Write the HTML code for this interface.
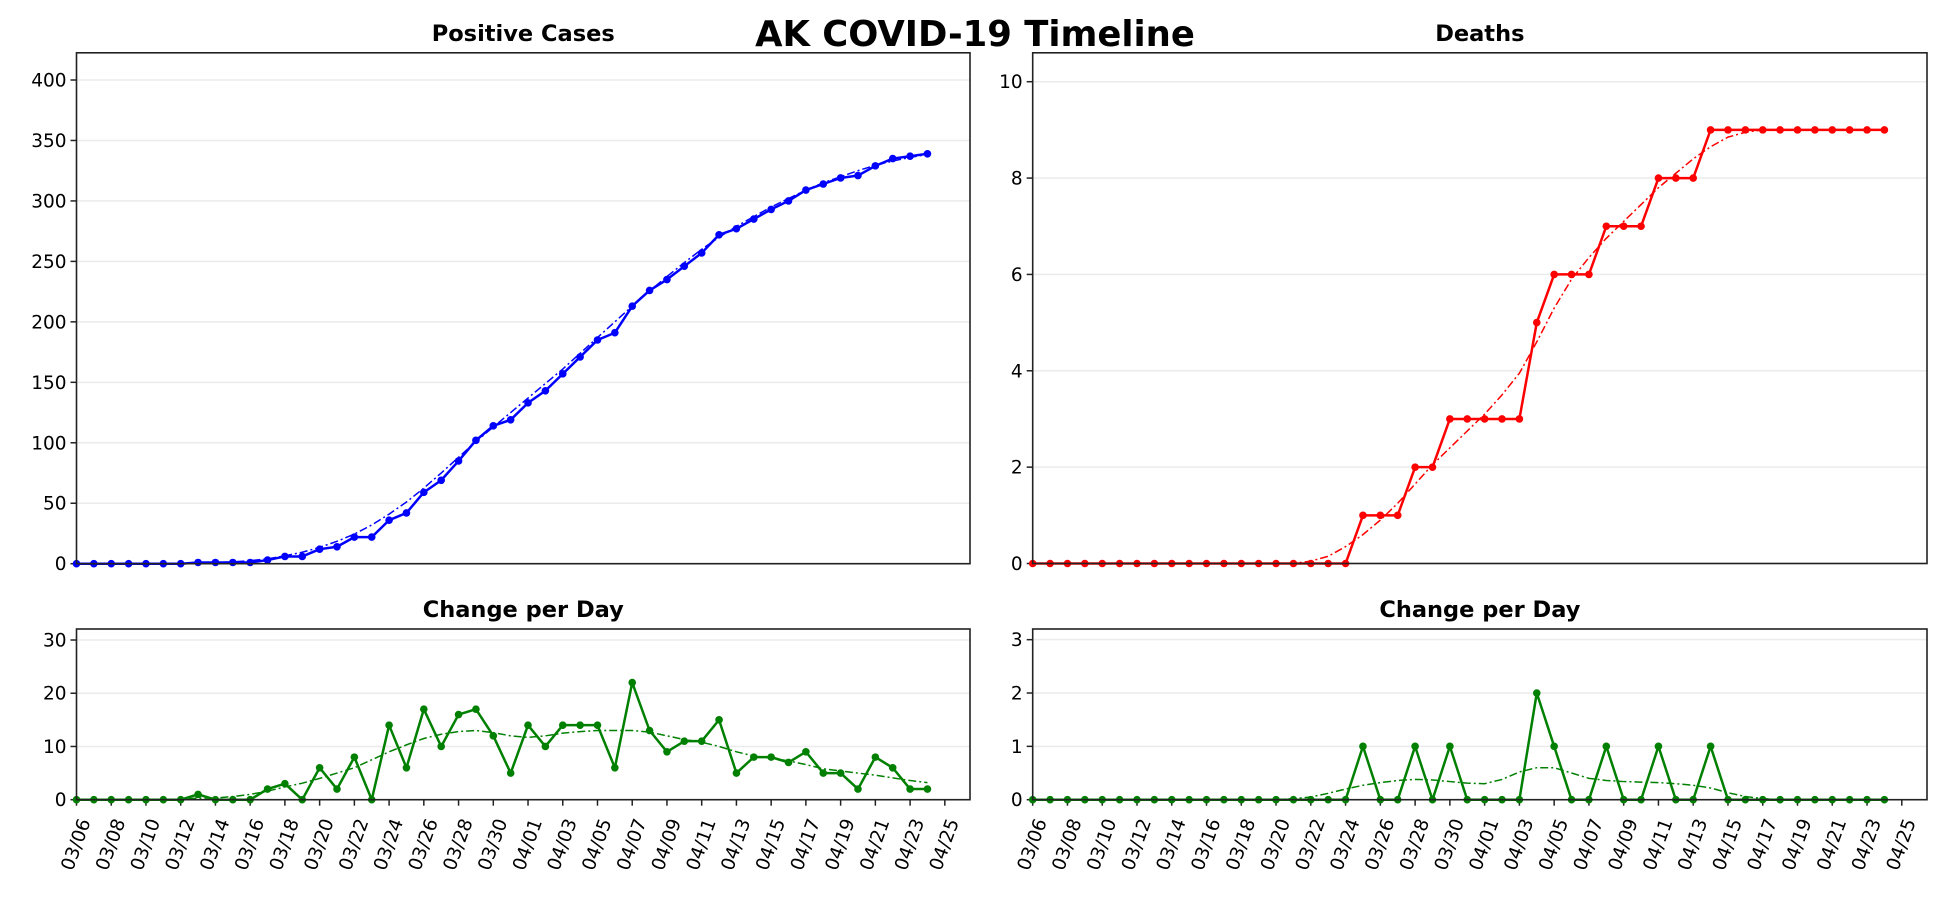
<!DOCTYPE html>
<html><head><meta charset="utf-8"><style>
html,body{margin:0;padding:0;background:#fff;}
svg{display:block;font-family:"DejaVu Sans","Liberation Sans",sans-serif;}
</style></head><body>
<svg id="fig" width="1950" height="900" viewBox="0 0 1950 900" xmlns="http://www.w3.org/2000/svg">
<rect width="1950" height="900" fill="#fff"/>
<text x="975" y="46" text-anchor="middle" font-size="35.4" font-weight="bold">AK COVID-19 Timeline</text>
</svg>
<script>
const dates = ["03/06","03/08","03/10","03/12","03/14","03/16","03/18","03/20","03/22","03/24","03/26","03/28","03/30","04/01","04/03","04/05","04/07","04/09","04/11","04/13","04/15","04/17","04/19","04/21","04/23","04/25"];
const casesDaily = [0,0,0,0,0,0,0,1,0,0,0,2,3,0,6,2,8,0,14,6,17,10,16,17,12,5,14,10,14,14,14,6,22,13,9,11,11,15,5,8,8,7,9,5,5,2,8,6,2,2];
const casesCum = [0,0,0,0,0,0,0,1,1,1,1,3,6,6,12,14,22,22,36,42,59,69,85,102,114,119,133,143,157,171,185,191,213,226,235,246,257,272,277,285,293,300,309,314,319,321,329,335,337,339];
const casesTrend = [0,0,0,0,0,0,0,0.5,1,1.5,2.5,4,6.5,9.5,13.5,18.5,24.5,32,41,51,62.5,75,88,101,113,125,137,149,161,174,187,200,213,225.5,237.5,249,260,270,279,287,295,302,309,315,320,325,329.5,333,336,338.5];
const casesDailyTrend = [0,0,0,0,0,0,0.1,0.3,0.3,0.6,1.0,1.6,2.4,3.1,4,5,6,7.5,9,10.3,11.5,12.3,12.8,13,12.6,12,11.7,12,12.5,12.8,13,13,13,12.7,12,11.3,10.8,10,9,8.2,7.8,7.3,6.6,5.8,5.4,5,4.6,4.1,3.6,3.2];
const deathsDaily = [0,0,0,0,0,0,0,0,0,0,0,0,0,0,0,0,0,0,0,1,0,0,1,0,1,0,0,0,0,2,1,0,0,1,0,0,1,0,0,1,0,0,0,0,0,0,0,0,0,0];
const deathsCum = [0,0,0,0,0,0,0,0,0,0,0,0,0,0,0,0,0,0,0,1,1,1,2,2,3,3,3,3,3,5,6,6,6,7,7,7,8,8,8,9,9,9,9,9,9,9,9,9,9,9];
const deathsTrend = [0,0,0,0,0,0,0,0,0,0,0,0,0,0,0,0,0.05,0.15,0.35,0.6,0.9,1.25,1.65,2.05,2.4,2.75,3.1,3.5,3.95,4.6,5.3,5.9,6.35,6.75,7.1,7.45,7.8,8.1,8.4,8.65,8.85,8.95,9,9,9,9,9,9,9,9];
const deathsDailyTrend = [0,0,0,0,0,0,0,0,0,0,0,0,0,0,0,0.02,0.05,0.12,0.2,0.27,0.32,0.36,0.38,0.37,0.34,0.31,0.3,0.38,0.52,0.6,0.6,0.5,0.4,0.36,0.34,0.33,0.32,0.3,0.27,0.22,0.13,0.06,0.02,0,0,0,0,0,0,0];
const casesTicks = [0,50,100,150,200,250,300,350,400];
const deathsTicks = [0,2,4,6,8,10];
const casesDailyTicks = [0,10,20,30];
const deathsDailyTicks = [0,1,2,3];

const NS="http://www.w3.org/2000/svg";
const svg=document.getElementById('fig');
function mk(tag,attrs,parent){const e=document.createElementNS(NS,tag);for(const k in attrs)e.setAttribute(k,attrs[k]);(parent||svg).appendChild(e);return e;}
const XMAX=51.45;
function panel(o){
  const g=mk('g',{});
  
  
  const sx=d=>o.x0+(d/XMAX)*(o.x1-o.x0);
  const sy=v=>o.y1-(v/o.ymax)*(o.y1-o.y0);
  o.yticks.forEach(t=>{
    const y=sy(t);
    const gl=mk('line',{x1:o.x0,x2:o.x1,y1:y,y2:y,stroke:'#ebebeb','stroke-width':1.5},g);
    
    
    mk('line',{x1:o.x0-6,x2:o.x0,y1:y,y2:y,stroke:'#222','stroke-width':1.5},g);
    const tx=mk('text',{x:o.x0-10,y:y+6.5,'text-anchor':'end','font-size':18.5},g);
    tx.textContent=t;
    
    
  });
  if(o.xlabels){
    dates.forEach((d,i)=>{
      const x=sx(i*2);
      mk('line',{x1:x,x2:x,y1:o.y1,y2:o.y1+6,stroke:'#222','stroke-width':1.5},g);
      const tx=mk('text',{x:0,y:0,'text-anchor':'middle','dominant-baseline':'central','font-size':18.5,transform:`translate(${x},${o.y1+45}) rotate(-70)`},g);
      tx.textContent=d;
      
      
    });
  }
  const tp=o.trend.map((v,i)=>`${sx(i)},${sy(v)}`).join(' ');
  const tl=mk('polyline',{points:tp,fill:'none',stroke:o.color,'stroke-width':1.5,'stroke-dasharray':'8,3,2,3'},g);
  
  
  const pp=o.data.map((v,i)=>`${sx(i)},${sy(v)}`).join(' ');
  const dl=mk('polyline',{points:pp,fill:'none',stroke:o.color,'stroke-width':2.5,'stroke-linejoin':'round'},g);
  
  
  o.data.forEach((v,i)=>{
    const c=mk('circle',{cx:sx(i),cy:sy(v),r:3.8,fill:o.color},g);
    
    
  });
  const fr=mk('rect',{x:o.x0,y:o.y0,width:o.x1-o.x0,height:o.y1-o.y0,fill:'none',stroke:'#222','stroke-width':1.6},g);
  
  
  const ti=mk('text',{x:(o.x0+o.x1)/2,y:o.ty,'text-anchor':'middle','font-size':22.5,'font-weight':'bold'},g);
  ti.textContent=o.title;
  
  
}
panel({name:'positive-cases-chart',title:'Positive Cases',x0:76.5,x1:970,y0:52.8,y1:563.7,ymax:422.5,yticks:casesTicks,data:casesCum,trend:casesTrend,color:'#0000ff',ty:41,xlabels:false});
panel({name:'deaths-chart',title:'Deaths',x0:1032.7,x1:1927,y0:52.8,y1:563.5,ymax:10.6,yticks:deathsTicks,data:deathsCum,trend:deathsTrend,color:'#ff0000',ty:41,xlabels:false});
panel({name:'cases-change-chart',title:'Change per Day',x0:76.5,x1:970,y0:629,y1:799.7,ymax:32.07,yticks:casesDailyTicks,data:casesDaily,trend:casesDailyTrend,color:'#008000',ty:617,xlabels:true});
panel({name:'deaths-change-chart',title:'Change per Day',x0:1032.7,x1:1927,y0:629,y1:799.7,ymax:3.2,yticks:deathsDailyTicks,data:deathsDaily,trend:deathsDailyTrend,color:'#008000',ty:617,xlabels:true});
</script>
</body></html>
